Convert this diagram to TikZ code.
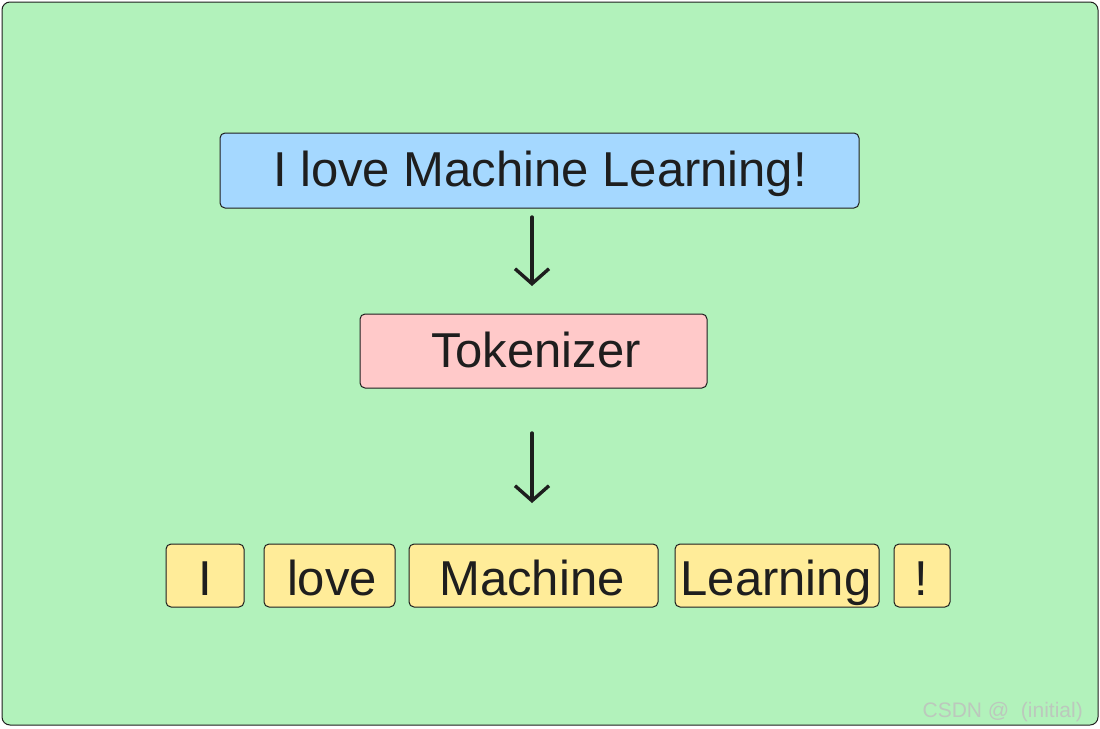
\documentclass[tikz,border=0pt]{standalone}
\usepackage{fontspec}
\setmainfont{Liberation Sans}
\usetikzlibrary{arrows.meta}
\definecolor{bggreen}{HTML}{B2F2BB}
\definecolor{boxblue}{HTML}{A5D8FF}
\definecolor{boxpink}{HTML}{FFC9C9}
\definecolor{boxyellow}{HTML}{FFEC99}
\definecolor{wmgray}{HTML}{BCC8BD}
\definecolor{inkblack}{HTML}{1E1E1E}
\tikzset{
  box/.style={draw=inkblack, line width=1pt, rounded corners=5pt, inner sep=0pt},
  bigtext/.style={font=\fontsize{49}{52}\selectfont, text=inkblack, anchor=base, inner sep=0pt},
  tok/.style={box, fill=boxyellow},
  flow/.style={draw=inkblack, line width=3.4pt, line cap=round, -{Straight Barb[length=15pt,width=34pt,line width=3.4pt]}}
}
\begin{document}
\begin{tikzpicture}[x=1pt,y=-1pt]
\useasboundingbox (0,0) rectangle (1100,728);
\draw[fill=bggreen, draw=inkblack, line width=1pt, rounded corners=8pt] (2,2) rectangle (1098,725);
% boxes
\draw[box, fill=boxblue] (220,133) rectangle (859,208);
\node[bigtext] (sent) at (540,186) {I love Machine Learning!};
\draw[box, fill=boxpink] (360,314) rectangle (707,388);
\node[bigtext] (tokz) at (536,367) {Tokenizer};
% tokens
\draw[tok] (166,544) rectangle (244,607);
\node[bigtext] (t1) at (205,595) {I};
\draw[tok] (264,544) rectangle (395,607);
\node[bigtext] (t2) at (332,595) {love};
\draw[tok] (409,544) rectangle (658,607);
\node[bigtext] (t3) at (532,595) {Machine};
\draw[tok] (675,544) rectangle (879,607);
\node[bigtext] (t4) at (776,595) {Learning};
\draw[tok] (894,544) rectangle (950,607);
\node[bigtext] (t5) at (921,595) {!};
% arrows
\coordinate (a1s) at (532,217);
\coordinate (a1e) at (532,286);
\coordinate (a2s) at (532,433);
\coordinate (a2e) at (532,503);
\draw[flow] (a1s) -- (a1e);
\draw[flow] (a2s) -- (a2e);
% watermark
\node[anchor=base east, text=wmgray, font=\fontsize{21}{23}\selectfont, inner sep=0pt] (wm) at (1083,717) {CSDN @\ \ (initial)};
\end{tikzpicture}
\end{document}
